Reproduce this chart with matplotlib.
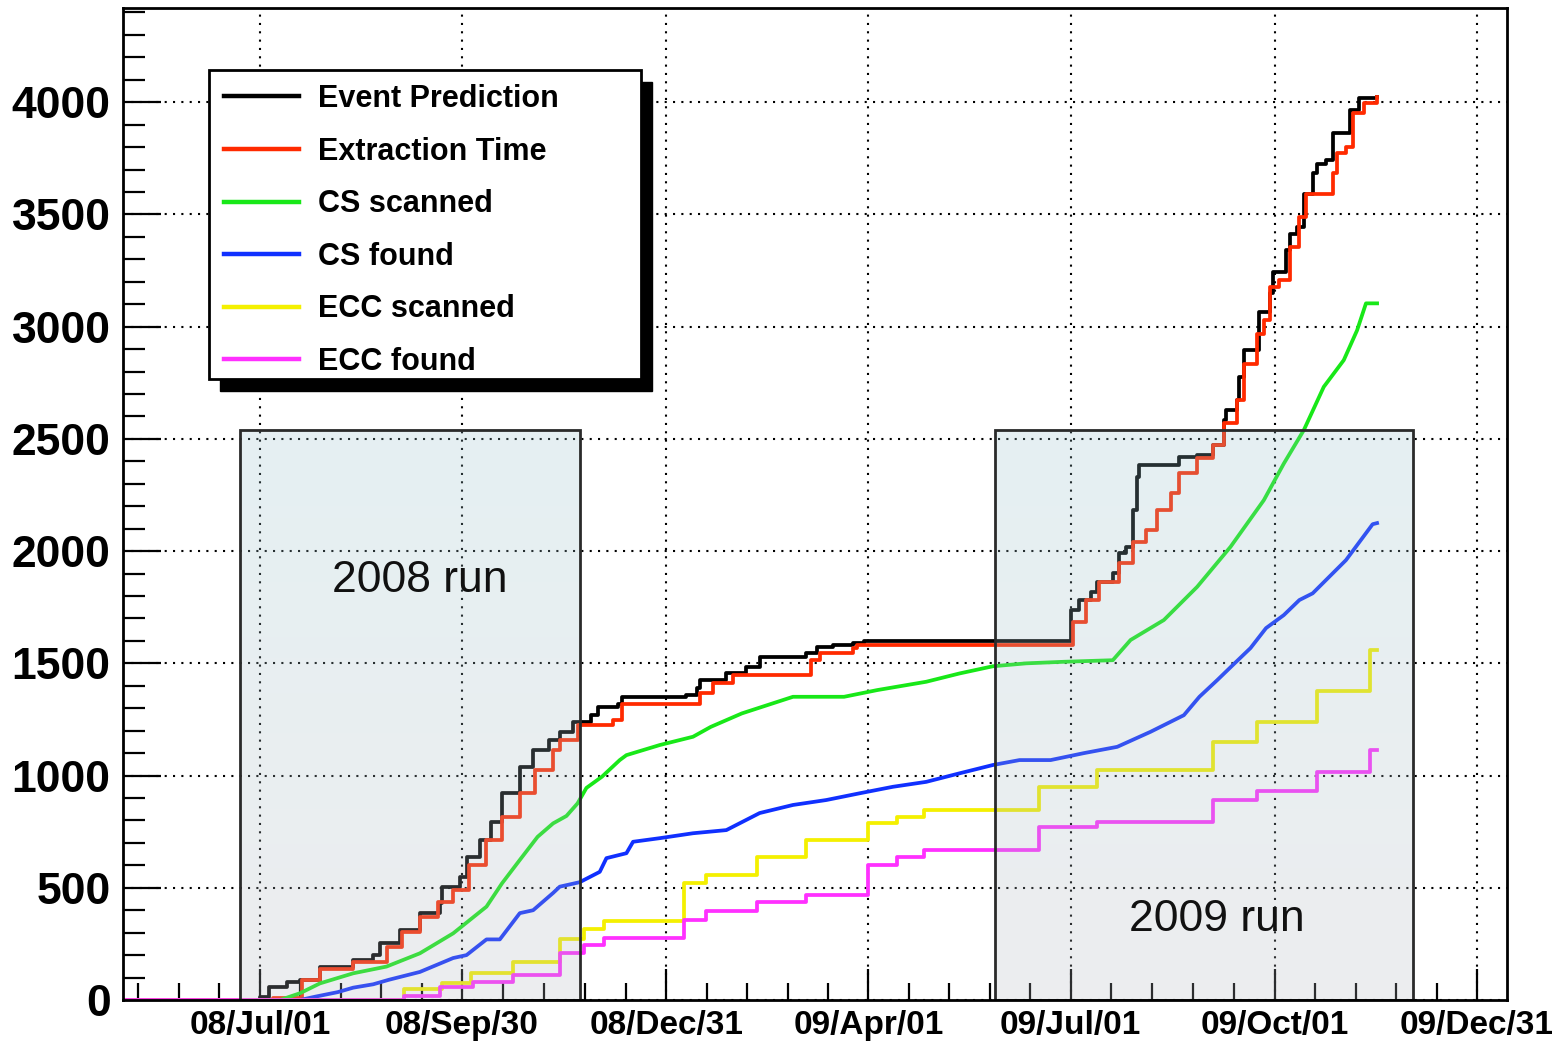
import numpy as np
import matplotlib
matplotlib.use("Agg")
import matplotlib.pyplot as plt
import matplotlib.dates as mdates
from matplotlib.patches import Rectangle
from matplotlib.ticker import MultipleLocator, FixedLocator
from datetime import datetime

plt.rcParams['font.family'] = ['Liberation Sans', 'DejaVu Sans']
plt.rcParams['font.weight'] = 'bold'

# cumulative event counts
pred_dates = ["2008-05-01", "2008-07-01", "2008-07-05", "2008-07-13", "2008-07-19", "2008-07-28",
              "2008-08-12", "2008-08-21", "2008-08-24", "2008-09-02", "2008-09-11", "2008-09-20",
              "2008-09-21", "2008-09-29", "2008-10-02", "2008-10-08", "2008-10-13", "2008-10-18",
              "2008-10-26", "2008-11-01", "2008-11-08", "2008-11-13", "2008-11-19", "2008-11-27",
              "2008-11-30", "2008-12-09", "2008-12-11", "2009-01-09", "2009-01-14", "2009-01-15",
              "2009-01-27", "2009-02-05", "2009-02-11", "2009-03-04", "2009-03-09", "2009-03-16",
              "2009-03-25", "2009-03-30", "2009-07-01", "2009-07-05", "2009-07-10", "2009-07-13",
              "2009-07-20", "2009-07-23", "2009-07-26", "2009-07-29", "2009-07-31", "2009-08-01",
              "2009-08-19", "2009-08-27", "2009-09-03", "2009-09-08", "2009-09-09", "2009-09-14",
              "2009-09-15", "2009-09-17", "2009-09-24", "2009-09-29", "2009-09-30", "2009-10-06",
              "2009-10-08", "2009-10-11", "2009-10-14", "2009-10-18", "2009-10-20", "2009-10-24",
              "2009-10-27", "2009-11-04", "2009-11-08", "2009-11-16"]
pred_vals = [0, 15, 59, 82, 89, 148, 178, 200, 252, 312, 386, 430, 505, 549, 638, 713, 794, 921,
             1039, 1114, 1158, 1195, 1240, 1269, 1306, 1321, 1348, 1359, 1389, 1425, 1455, 1485,
             1529, 1544, 1571, 1581, 1592, 1600, 1737, 1782, 1819, 1863, 1901, 1990, 2019, 2183,
             2331, 2383, 2420, 2427, 2472, 2583, 2628, 2673, 2776, 2895, 3066, 3148, 3244, 3341,
             3415, 3445, 3593, 3683, 3727, 3742, 3861, 3964, 4017, 4024]

ext_dates = ["2008-05-01", "2008-07-07", "2008-07-20", "2008-07-28", "2008-08-12", "2008-08-27",
             "2008-09-03", "2008-09-11", "2008-09-19", "2008-09-26", "2008-10-03", "2008-10-11",
             "2008-10-18", "2008-10-26", "2008-11-02", "2008-11-10", "2008-11-13", "2008-11-21",
             "2008-12-07", "2008-12-11", "2009-01-15", "2009-01-21", "2009-01-30", "2009-03-06",
             "2009-03-10", "2009-03-25", "2009-03-27", "2009-07-02", "2009-07-08", "2009-07-14",
             "2009-07-23", "2009-07-29", "2009-08-04", "2009-08-09", "2009-08-15", "2009-08-19",
             "2009-08-27", "2009-09-03", "2009-09-08", "2009-09-14", "2009-09-17", "2009-09-23",
             "2009-09-26", "2009-09-29", "2009-10-03", "2009-10-08", "2009-10-12", "2009-10-15",
             "2009-10-27", "2009-10-29", "2009-11-02", "2009-11-05", "2009-11-10", "2009-11-16"]
ext_vals = [0, 10, 89, 140, 170, 238, 304, 371, 438, 490, 601, 713, 817, 921, 1024, 1114, 1158,
            1225, 1247, 1321, 1367, 1411, 1448, 1514, 1544, 1568, 1581, 1685, 1782, 1863, 1946,
            2041, 2094, 2183, 2258, 2346, 2413, 2472, 2569, 2673, 2836, 2969, 3029, 3177, 3207,
            3356, 3489, 3593, 3683, 3772, 3801, 3950, 3995, 4024]

cs_scan_dates = ["2008-05-01", "2008-07-10", "2008-07-19", "2008-07-28", "2008-08-12", "2008-08-27",
                 "2008-09-11", "2008-09-26", "2008-10-11", "2008-10-18", "2008-10-26", "2008-11-03",
                 "2008-11-10", "2008-11-16", "2008-11-21", "2008-11-25", "2008-12-02", "2008-12-10",
                 "2008-12-13", "2008-12-28", "2009-01-12", "2009-01-20", "2009-02-03", "2009-02-26",
                 "2009-03-21", "2009-04-05", "2009-04-27", "2009-05-12", "2009-05-27", "2009-06-11",
                 "2009-06-28", "2009-07-20", "2009-07-28", "2009-08-12", "2009-08-27", "2009-09-11",
                 "2009-09-26", "2009-10-05", "2009-10-14", "2009-10-23", "2009-11-01", "2009-11-07",
                 "2009-11-11", "2009-11-16"]
cs_scan_vals = [0, 0, 30, 74, 119, 149, 208, 297, 416, 520, 624, 727, 787, 820, 876, 945, 995,
                1069, 1091, 1136, 1173, 1217, 1277, 1351, 1351, 1381, 1418, 1455, 1487, 1500,
                1507, 1514, 1604, 1693, 1841, 2019, 2227, 2390, 2539, 2732, 2851, 2984, 3104, 3104]

cs_found_dates = ["2008-05-01", "2008-07-19", "2008-07-26", "2008-08-05", "2008-08-12", "2008-08-21",
                  "2008-08-28", "2008-09-11", "2008-09-26", "2008-10-02", "2008-10-11", "2008-10-17",
                  "2008-10-26", "2008-11-01", "2008-11-10", "2008-11-13", "2008-11-22", "2008-12-01",
                  "2008-12-04", "2008-12-13", "2008-12-16", "2008-12-28", "2009-01-12", "2009-01-27",
                  "2009-02-11", "2009-02-26", "2009-03-13", "2009-03-28", "2009-04-12", "2009-04-27",
                  "2009-05-12", "2009-05-27", "2009-06-08", "2009-06-22", "2009-07-07", "2009-07-22",
                  "2009-08-06", "2009-08-21", "2009-08-28", "2009-09-05", "2009-09-12", "2009-09-20",
                  "2009-09-27", "2009-10-05", "2009-10-12", "2009-10-18", "2009-11-02", "2009-11-11",
                  "2009-11-14", "2009-11-16"]
cs_found_vals = [0, 0, 15, 35, 55, 70, 90, 125, 187, 200, 270, 270, 387, 400, 477, 505, 525, 571,
                 632, 654, 705, 721, 743, 757, 833, 869, 891, 921, 950, 972, 1010, 1047, 1069, 1069,
                 1100, 1128, 1195, 1269, 1351, 1425, 1492, 1568, 1657, 1715, 1782, 1812, 1960, 2080,
                 2120, 2125]

ecc_scan_dates = ["2008-05-01", "2008-09-04", "2008-09-21", "2008-10-04", "2008-10-23", "2008-11-13",
                  "2008-11-24", "2008-12-03", "2009-01-08", "2009-01-18", "2009-02-10", "2009-03-04",
                  "2009-04-01", "2009-04-14", "2009-04-26", "2009-06-17", "2009-07-13", "2009-09-03",
                  "2009-09-23", "2009-10-20", "2009-11-13", "2009-11-16"]
ecc_scan_vals = [0, 47, 74, 122, 171, 272, 318, 351, 520, 557, 636, 713, 787, 814, 846, 951, 1026,
                 1150, 1240, 1378, 1559, 1559]

ecc_found_dates = ["2008-05-01", "2008-09-04", "2008-09-20", "2008-10-05", "2008-10-23", "2008-11-13",
                   "2008-11-24", "2008-12-03", "2009-01-08", "2009-01-18", "2009-02-10", "2009-03-04",
                   "2009-04-01", "2009-04-14", "2009-04-26", "2009-06-17", "2009-07-13", "2009-09-03",
                   "2009-09-23", "2009-10-20", "2009-11-13", "2009-11-16"]
ecc_found_vals = [0, 20, 57, 82, 111, 208, 245, 276, 358, 398, 438, 468, 601, 638, 670, 770, 793,
                  891, 932, 1017, 1113, 1113]

labels = ["Event Prediction", "Extraction Time", "CS scanned", "CS found", "ECC scanned", "ECC found"]

# run periods (start, end, label position)
run_spans = [("2008-06-22", "2008-11-22"), ("2009-05-28", "2009-12-02")]
run_top = 2540
run_labels = [("2008 run", "2008-09-11", 1870), ("2009 run", "2009-09-05", 360)]

major_days = ["2008-07-01", "2008-09-30", "2008-12-31", "2009-04-01",
              "2009-07-01", "2009-10-01", "2009-12-31"]


def dates(lst):
    return np.array(lst, dtype="datetime64[D]")


fig = plt.figure(figsize=(15.59, 10.42), dpi=100)
ax = fig.add_axes([123 / 1559, 42 / 1042, 1384 / 1559, 992 / 1042])

lw = 2.7
l1, = ax.plot(dates(pred_dates), pred_vals, color="black", lw=lw, drawstyle="steps-post")
l2, = ax.plot(dates(ext_dates), ext_vals, color="#ff2a00", lw=lw, drawstyle="steps-post")
l3, = ax.plot(dates(cs_scan_dates), cs_scan_vals, color="#18e818", lw=lw)
l4, = ax.plot(dates(cs_found_dates), cs_found_vals, color="#1030ff", lw=lw)
l5, = ax.plot(dates(ecc_scan_dates), ecc_scan_vals, color="#f4f000", lw=lw, drawstyle="steps-post")
l6, = ax.plot(dates(ecc_found_dates), ecc_found_vals, color="#ff30ff", lw=lw, drawstyle="steps-post")

# translucent shaded run boxes, lighter blue at top fading to grey
n = 256
top_c = np.array([150, 195, 205]) / 255
bot_c = np.array([180, 184, 192]) / 255
t = np.linspace(0, 1, n)[:, None]
grad = np.zeros((n, 1, 4))
grad[:, 0, :3] = top_c * (1 - t) + bot_c * t
grad[:, 0, 3] = 0.25
for start, end in run_spans:
    x0 = mdates.date2num(np.datetime64(start))
    x1 = mdates.date2num(np.datetime64(end))
    ax.imshow(grad, extent=[x0, x1, 0, run_top], aspect="auto", zorder=3,
              interpolation="bilinear")
    ax.add_patch(Rectangle((x0, 0), x1 - x0, run_top, fill=False,
                           edgecolor="#2a2a2a", lw=2, zorder=3.5))
for txt, xd, yv in run_labels:
    ax.text(np.datetime64(xd), yv, txt, fontsize=32, fontweight="normal",
            ha="center", va="center", color="#111111", zorder=4)

ax.set_xlim(datetime(2008, 4, 30, 8), datetime(2010, 1, 13, 12))
ax.set_ylim(0, 4420)

# axes
maj = mdates.date2num(dates(major_days))
step = np.diff(maj).mean() / 5
minors = []
for a, b in zip(maj[:-1], maj[1:]):
    minors.extend(np.linspace(a, b, 6)[1:-1])
minors.extend([maj[0] - k * step for k in (1, 2, 3)])
ax.xaxis.set_major_locator(FixedLocator(maj))
ax.xaxis.set_minor_locator(FixedLocator(minors))
ax.xaxis.set_major_formatter(mdates.DateFormatter("%y/%b/%d"))
ax.yaxis.set_major_locator(MultipleLocator(500))
ax.yaxis.set_minor_locator(MultipleLocator(100))

ax.tick_params(axis="both", which="both", direction="in", top=False, right=False, width=1.6)
ax.tick_params(axis="y", which="major", length=27, pad=9, labelsize=32)
ax.tick_params(axis="y", which="minor", length=16)
ax.tick_params(axis="x", which="major", length=22, pad=7, labelsize=24)
ax.tick_params(axis="x", which="minor", length=12)
for s in ax.spines.values():
    s.set_linewidth(2)
    s.set_zorder(10)
ax.set_axisbelow(True)
ax.grid(which="major", color="black", linestyle=(0, (1, 3)), linewidth=1.5)

# legend with square frame and solid drop shadow
fx0, fx1 = (209 - 123) / 1384, (641 - 123) / 1384
fy0, fy1 = (1000 - 379) / 992, (1000 - 70) / 992
ax.add_patch(Rectangle((fx0 + 0.008, fy0 - 0.012), fx1 - fx0, fy1 - fy0, transform=ax.transAxes,
                       facecolor="black", edgecolor="black", zorder=5, clip_on=False))
ax.add_patch(Rectangle((fx0, fy0), fx1 - fx0, fy1 - fy0, transform=ax.transAxes,
                       facecolor="white", edgecolor="black", lw=2, zorder=5.5, clip_on=False))
leg = ax.legend([l1, l2, l3, l4, l5, l6], labels, loc="upper left",
                bbox_to_anchor=((224 - 123) / 1384, (1000 - 84) / 992),
                frameon=False, borderpad=0, borderaxespad=0,
                prop={"weight": "bold", "size": 22},
                handlelength=2.45, handletextpad=0.62, labelspacing=0.74)
leg.set_zorder(6)
for h in leg.get_lines():
    h.set_linewidth(3.2)

fig.savefig("out.png", dpi=100)
